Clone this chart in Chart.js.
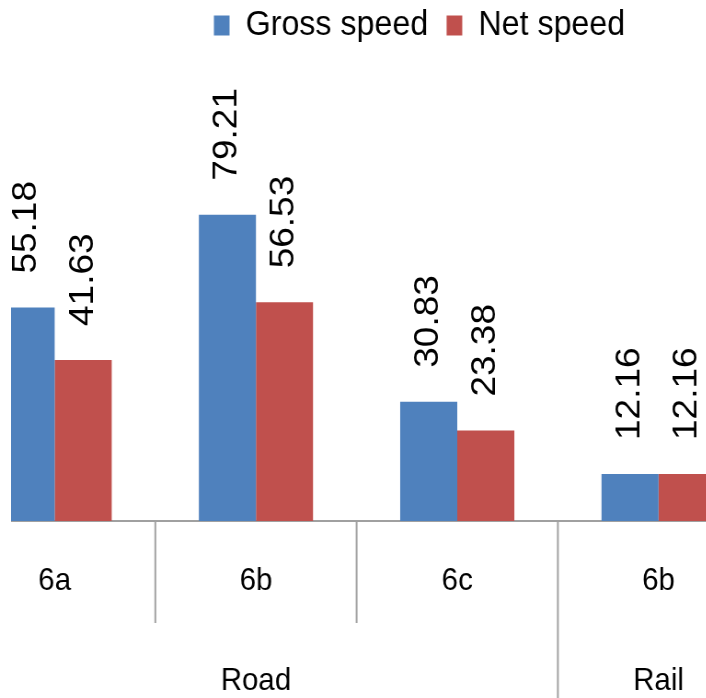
<!DOCTYPE html>
<html>
<head>
<meta charset="utf-8">
<script src="https://cdn.jsdelivr.net/npm/chart.js@4.4.1/dist/chart.umd.min.js"></script>
<style>
  html, body { margin: 0; padding: 0; background: #fff; overflow: hidden; }
  body { width: 706px; height: 698px; position: relative; }
  /* gambar asli sedikit dipipihkan ke samping */
  #wrap {
    position: absolute; left: -45.6px; top: 0; width: 1012px; height: 698px;
    transform: scaleX(0.92); transform-origin: 0 0;
    clip-path: inset(0 0 0 62.6px);
  }
</style>
</head>
<body>
<div id="wrap"><canvas id="speedChart"></canvas></div>
<script>
const categories = ['6a', '6b', '6c', '6b'];
const groups = [
  { label: 'Road', from: 0, to: 2 },
  { label: 'Rail', from: 3, to: 3 }
];
const grossSpeed = [55.18, 79.21, 30.83, 12.16];
const netSpeed = [41.63, 56.53, 23.38, 12.16];

const FONT = 'Liberation Sans, Arial, sans-serif';

// etiket angka tegak di atas batang
const valueLabels = {
  id: 'valueLabels',
  afterDatasetsDraw(chart) {
    const ctx = chart.ctx;
    ctx.save();
    ctx.fillStyle = '#000';
    ctx.font = '37px ' + FONT;
    ctx.textAlign = 'left';
    ctx.textBaseline = 'middle';
    chart.data.datasets.forEach((ds, di) => {
      chart.getDatasetMeta(di).data.forEach((bar, i) => {
        ctx.save();
        ctx.translate(bar.x, bar.y - 34);
        ctx.rotate(-Math.PI / 2);
        ctx.fillText(ds.data[i].toFixed(2), 0, 0);
        ctx.restore();
      });
    });
    ctx.restore();
  }
};

// garis pemisah dan label kelompok di bawah sumbu
const groupAxis = {
  id: 'groupAxis',
  afterDraw(chart) {
    const ctx = chart.ctx;
    const x = chart.scales.x;
    const top = chart.chartArea.bottom;
    const px = i => x.getPixelForValue(i);
    ctx.save();
    ctx.strokeStyle = '#a0a0a0';
    ctx.lineWidth = 2;
    for (let i = 1; i < categories.length; i++) {
      const sx = (px(i - 1) + px(i)) / 2;
      const isGroupEdge = groups.some(g => g.from === i);
      ctx.beginPath();
      ctx.moveTo(sx, top);
      ctx.lineTo(sx, isGroupEdge ? chart.height : top + 102);
      ctx.stroke();
    }
    ctx.fillStyle = '#000';
    ctx.font = '32px ' + FONT;
    ctx.textAlign = 'center';
    ctx.textBaseline = 'alphabetic';
    groups.forEach(g => {
      ctx.fillText(g.label, (px(g.from) + px(g.to)) / 2, 690);
    });
    ctx.restore();
  }
};

new Chart(document.getElementById('speedChart'), {
  type: 'bar',
  data: {
    labels: categories,
    datasets: [
      { label: 'Gross speed', data: grossSpeed, backgroundColor: '#4f81bd' },
      { label: 'Net speed', data: netSpeed, backgroundColor: '#c0504d' }
    ]
  },
  options: {
    responsive: true,
    maintainAspectRatio: false,
    animation: false,
    devicePixelRatio: 1,
    layout: { padding: { top: -12, left: 0, right: 0, bottom: 0 } },
    datasets: {
      bar: { categoryPercentage: 0.567, barPercentage: 1.0 }
    },
    plugins: {
      tooltip: { enabled: false },
      legend: {
        position: 'top',
        labels: {
          boxWidth: 17,
          boxHeight: 20,
          padding: 20,
          color: '#000',
          font: { family: FONT, size: 35 }
        }
      }
    },
    scales: {
      x: {
        grid: { display: false, drawTicks: false },
        border: { display: true, color: '#a0a0a0', width: 2 },
        ticks: { color: '#000', padding: 41, font: { family: FONT, size: 32 } },
        afterFit: s => { s.height = 177; }
      },
      y: {
        position: 'right',
        min: 0,
        max: 121,
        grid: { display: false, drawTicks: false },
        border: { display: false },
        ticks: { display: false },
        afterFit: s => { s.width = 136.8; }
      }
    }
  },
  plugins: [valueLabels, groupAxis]
});
</script>
</body>
</html>
